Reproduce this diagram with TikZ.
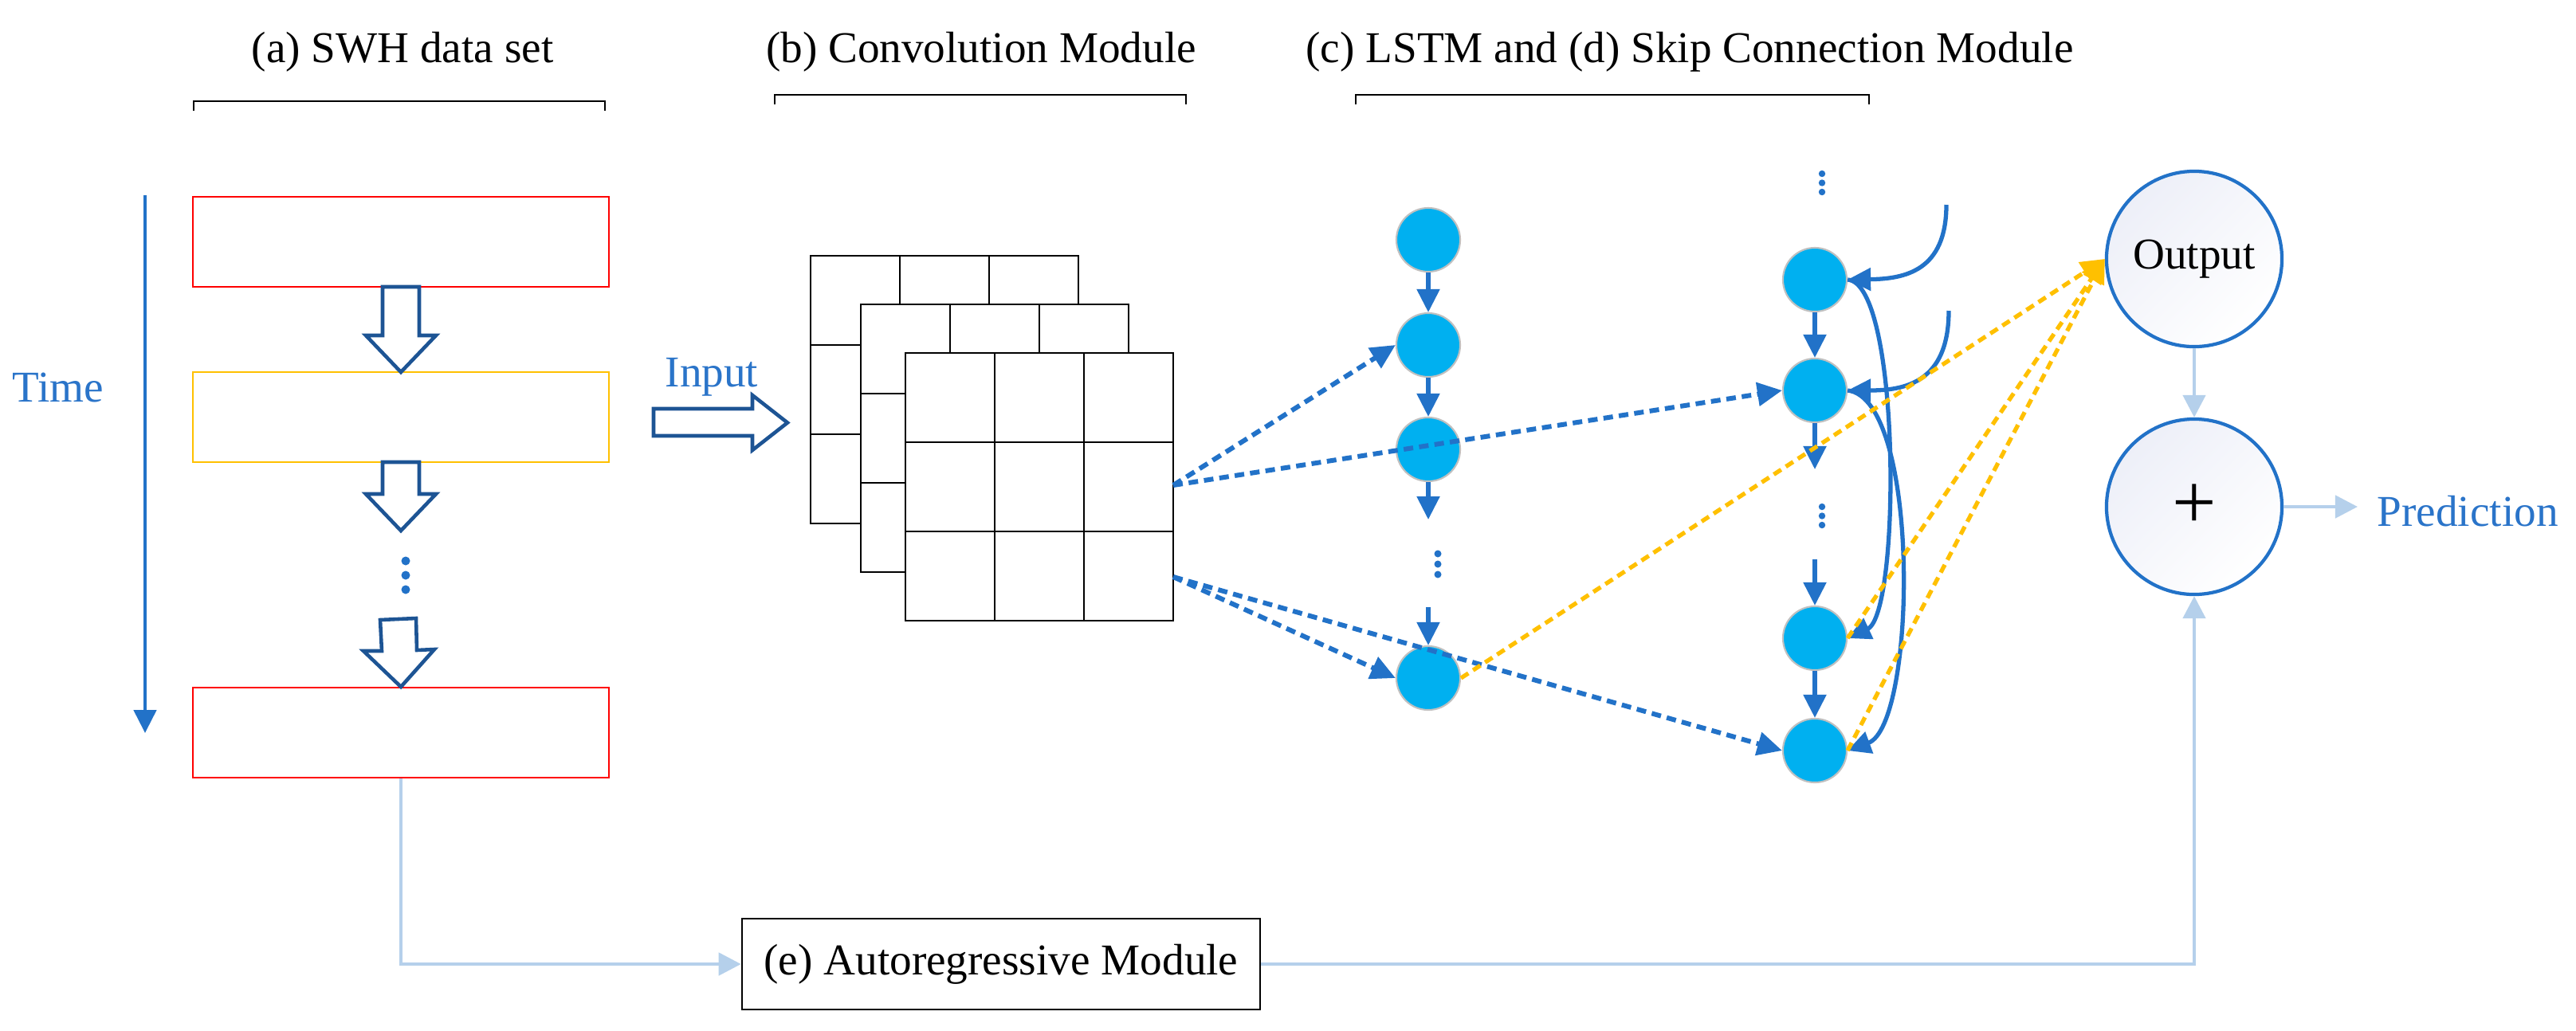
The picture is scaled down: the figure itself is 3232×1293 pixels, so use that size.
\documentclass[tikz,border=0pt]{standalone}
\usepackage{fontspec}
\setmainfont{Liberation Serif}
\usetikzlibrary{arrows.meta,calc}
\definecolor{ablue}{HTML}{2272C8}
\definecolor{tblue}{HTML}{2A74C9}
\definecolor{hblue}{HTML}{1D5494}
\definecolor{lblue}{HTML}{B5D0EB}
\definecolor{nodecyan}{HTML}{00B0F0}
\definecolor{ngray}{HTML}{C0C0C0}
\definecolor{ayellow}{HTML}{FFC000}
\definecolor{ared}{HTML}{FF0000}
\definecolor{lav}{HTML}{EDEFF8}
\begin{document}
\begin{tikzpicture}[x=0.01cm,y=-0.01cm,
  every node/.style={font=\fontsize{15.7pt}{18pt}\selectfont},
  title/.style={anchor=base, inner sep=0pt},
  bracket/.style={black, line width=0.6pt},
  databox/.style={draw, line width=0.7pt, minimum width=5.22cm, minimum height=1.13cm, inner sep=0pt},
  hollow/.style={draw=hblue, line width=1.3pt, fill=white, line join=miter},
  gridline/.style={black, line width=0.6pt},
  lstm/.style={circle, fill=nodecyan, draw=ngray, line width=0.6pt, minimum size=0.8cm, inner sep=0pt},
  solidarr/.style={ablue, line width=1.5pt, -{Triangle[length=0.29cm, width=0.28cm]}},
  dasharr/.style={ablue, line width=1.7pt, dash pattern=on 0.12cm off 0.075cm, -{Triangle[length=0.31cm, width=0.29cm]}},
  yelarr/.style={ayellow, line width=1.5pt, dash pattern=on 0.11cm off 0.07cm, -{Triangle[length=0.3cm, width=0.28cm]}},
  lbarrow/.style={lblue, line width=1.3pt, -{Triangle[length=0.28cm, width=0.28cm]}},
  outc/.style={circle, draw=ablue, line width=1.2pt, minimum size=2.2cm, inner sep=0pt, top color=lav, bottom color=white, shading angle=45},
  convgrid/.pic={
    \draw[gridline, fill=white] (0,0) rectangle (336,336);
    \draw[gridline] (112,0) -- (112,336) (224,0) -- (224,336) (0,112) -- (336,112) (0,224) -- (336,224);
  }]
\useasboundingbox (0,0) rectangle (3232,1293);
\fill[white] (0,0) rectangle (3232,1293);

% titles and brackets
\node[title] (ta) at (505,78) {(a) SWH data set};
\node[title] (tb) at (1231,78) {(b) Convolution Module};
\node[title] (tc) at (2120,78) {(c) LSTM and (d) Skip Connection Module};
\draw[bracket] (243,139) -- (243,127) -- (759,127) -- (759,139);
\draw[bracket] (972,131) -- (972,119) -- (1488,119) -- (1488,131);
\draw[bracket] (1701,131) -- (1701,119) -- (2345,119) -- (2345,131);

% time axis
\coordinate (t0) at (182,245);
\coordinate (t1) at (182,920);
\draw[ablue, line width=1.4pt, -{Triangle[length=0.29cm,width=0.28cm]}] (t0) -- (t1);
\node[title, text=tblue] (time) at (73,504) {Time};

% data set boxes
\node[databox, draw=ared] (r1) at (503,303.5) {};
\node[databox, draw=ayellow] (y1) at (503,523.5) {};
\node[databox, draw=ared] (r3) at (503,919.5) {};

% hollow arrows
\draw[hollow] (480,360) -- (526,360) -- (526,421) -- (547,421) -- (503,467) -- (459,421) -- (480,421) -- cycle;
\draw[hollow] (480,580) -- (526,580) -- (526,620) -- (547,620) -- (503,666) -- (459,620) -- (480,620) -- cycle;
\draw[hollow] (477,778) -- (522,776) -- (523,816) -- (545,815) -- (503,862) -- (456,817) -- (479,817) -- cycle;
\fill[ablue] (509,704) circle (0.055cm);
\fill[ablue] (509,722) circle (0.055cm);
\fill[ablue] (509,740) circle (0.055cm);

% input arrow
\draw[hollow] (820,513) -- (944,513) -- (944,496) -- (988,530.5) -- (944,565) -- (944,547) -- (820,547) -- cycle;
\node[title, text=tblue] (input) at (893,485) {Input};

% convolution grids
\pic at (1017,321) {convgrid};
\pic at (1080,382) {convgrid};
\pic at (1136,443) {convgrid};
\coordinate (gA) at (1472,609);
\coordinate (gB) at (1472,724);

% LSTM column
\node[lstm] (a1) at (1792,301) {};
\node[lstm] (a2) at (1792,433) {};
\node[lstm] (a3) at (1792,564) {};
\node[lstm] (a4) at (1792,851) {};
\coordinate (a3e) at (1792,652);
\coordinate (a4s) at (1792,762);
\draw[solidarr] (a1) -- (a2);
\draw[solidarr] (a2) -- (a3);
\draw[solidarr] (a3) -- (a3e);
\draw[solidarr] (a4s) -- (a4);
\fill[ablue] (1804,695) circle (0.045cm);
\fill[ablue] (1804,708) circle (0.045cm);
\fill[ablue] (1804,721) circle (0.045cm);

% skip column
\node[lstm] (b1) at (2277,351) {};
\node[lstm] (b2) at (2277,490) {};
\node[lstm] (b3) at (2277,801) {};
\node[lstm] (b4) at (2277,942) {};
\coordinate (b2e) at (2277,589);
\coordinate (b3s) at (2277,702);
\draw[solidarr] (b1) -- (b2);
\draw[solidarr] (b2) -- (b2e);
\draw[solidarr] (b3s) -- (b3);
\draw[solidarr] (b3) -- (b4);
\fill[ablue] (2286,218) circle (0.042cm);
\fill[ablue] (2286,229.5) circle (0.042cm);
\fill[ablue] (2286,241) circle (0.042cm);
\fill[ablue] (2286,636) circle (0.042cm);
\fill[ablue] (2286,647.5) circle (0.042cm);
\fill[ablue] (2286,659) circle (0.042cm);

% skip curves
\coordinate (s1) at (2442,257);
\coordinate (s2) at (2445,390);
\draw[solidarr] (s1) .. controls (2442,340) and (2390,350) .. (b1.east);
\draw[solidarr] (s2) .. controls (2445,480) and (2390,490) .. (b2.east);
\draw[solidarr] (b1.east) .. controls (2385,355) and (2385,770) .. (b3.east);
\draw[solidarr] (b2.east) .. controls (2410,500) and (2405,910) .. (b4.east);

% dashed inputs from convolution
\draw[dasharr] (gA) -- (a2.west);
\draw[dasharr] (gA) -- (b2.west);
\draw[dasharr] (gB) -- (a4.west);
\draw[dasharr] (gB) -- (b4.west);

% output part
\node[outc] (out) at (2753,325) {Output};
\node[outc, font=\fontsize{28pt}{28pt}\selectfont] (plus) at (2753,636) {+};
\node[title, text=tblue, anchor=base west] (pred) at (2982,660) {Prediction};

\draw[yelarr] (a4.east) -- (out.west);
\draw[yelarr] (b3.east) -- (out.west);
\draw[yelarr] (b4.east) -- (out.west);

% autoregressive
\node[draw, line width=0.6pt, minimum width=6.5cm, minimum height=1.14cm, inner sep=0pt] (ar) at (1256,1210) {(e) Autoregressive Module};
\draw[lbarrow] (r3.south) |- (ar.west);
\draw[lbarrow] (ar.east) -| (plus.south);
\draw[lbarrow] (out.south) -- (plus.north);
\draw[lbarrow, shorten >=0.24cm] (plus.east) -- (plus.east -| pred.west);
\end{tikzpicture}
\end{document}
